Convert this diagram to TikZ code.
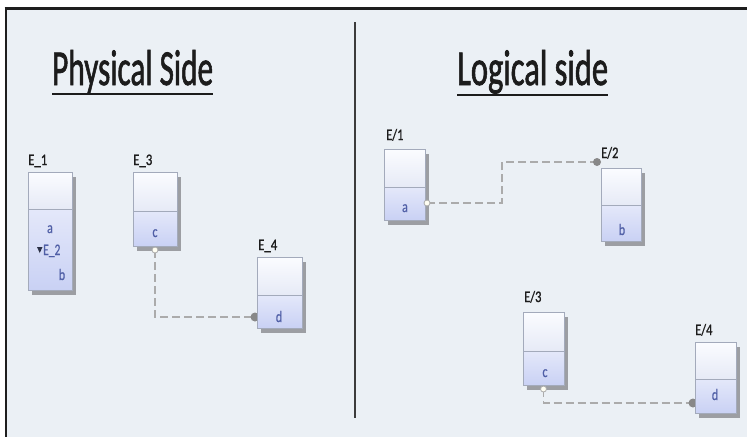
\documentclass[tikz,border=0pt]{standalone}
\usepackage{fontspec}
\setmainfont{Carlito}
\newfontfamily\heavyfont{Carlito}[FakeBold=1.6]
\newfontfamily\lblfont{Carlito}[FakeBold=1.2]
\newfontfamily\inner{Carlito}[FakeBold=0.6]
\usetikzlibrary{calc}
\pgfdeclarelayer{background}
\pgfsetlayers{background,main}
\definecolor{bgc}{HTML}{EBF0F5}
\definecolor{framec}{HTML}{1E1E1E}
\definecolor{boxline}{HTML}{A3AABB}
\definecolor{toptop}{HTML}{FBFCFF}
\definecolor{topbot}{HTML}{E6EAF6}
\definecolor{lowtop}{HTML}{E4E8FA}
\definecolor{lowbot}{HTML}{C9D1F4}
\definecolor{shadowc}{HTML}{9C9EA3}
\definecolor{conn}{HTML}{ABABAB}
\definecolor{endc}{HTML}{888888}
\definecolor{txtblue}{HTML}{4F5EA6}
\definecolor{divc}{HTML}{3C3C3C}
\definecolor{titlec}{HTML}{1C1C1C}
\newcommand\sqz[2]{\scalebox{#1}[1]{#2}}
\newcommand\umlbox[6]{%
  \fill[shadowc] (#2+4,#3+5) rectangle (#2+4+#4,#3+5+#5);
  \shade[top color=toptop,bottom color=topbot] (#2,#3) rectangle (#2+#4,#3+#6);
  \shade[top color=lowtop,bottom color=lowbot] (#2,#3+#6) rectangle (#2+#4,#3+#5);
  \node[boxframe,minimum width=#4pt,minimum height=#5pt] (#1) at (#2,#3) {};
  \draw[boxline,line width=0.8pt] (#1.north west) ++(0,-#6pt) -- ++(#4pt,0);
}
\tikzset{
  boxframe/.style={draw=boxline,line width=0.8pt,inner sep=0pt,outer sep=0pt,anchor=north west},
  lbl/.style={anchor=base west,inner sep=0pt,text=titlec,font=\lblfont\fontsize{16}{16}\selectfont},
  itxt/.style={anchor=base,inner sep=0pt,text=txtblue,font=\inner\fontsize{16}{16}\selectfont},
  ttl/.style={anchor=base west,inner sep=0pt,text=titlec,font=\heavyfont},
  connector/.style={conn,line width=1.7pt,dash pattern=on 8pt off 4pt},
  opendot/.style={draw=conn,fill=white!95!yellow,line width=0.8pt},
  enddot/.style={fill=endc},
}
\begin{document}
\begin{tikzpicture}[x=1pt,y=-1pt]
\useasboundingbox (0,0) rectangle (747,437);
\begin{pgfonlayer}{background}
\fill[white] (0,0) rectangle (747,437);
\fill[bgc] (6,8) rectangle (747,437);
\draw[framec,line width=2.6pt] (4.7,8.5) -- (747,8.5);
\draw[framec,line width=2.4pt] (6,8) -- (6,437);
\end{pgfonlayer}

% titles
\node[ttl] (tP) at (52,85) {\resizebox{161pt}{35pt}{Physical Side}};
\draw[titlec,line width=2.2pt] ($(tP.base west)+(0,-9pt)$) -- ($(tP.base east)+(0,-9pt)$);
\node[ttl] (tL) at (457,85) {\resizebox{151pt}{35pt}{Logical side}};
\draw[titlec,line width=2.2pt] ($(tL.base west)+(0,-10pt)$) -- ($(tL.base east)+(0,-10pt)$);

% divider
\coordinate (dtop) at (355,22);
\coordinate (dbot) at (355,418);
\draw[divc,line width=2pt] (dtop) -- (dbot);

% boxes
\umlbox{E1}{28}{172}{44}{118}{37}
\umlbox{E3}{133}{172}{44}{74}{39}
\umlbox{E4}{257}{257}{45}{71}{38}
\umlbox{L1}{384}{149}{41}{71}{38}
\umlbox{L2}{601}{168}{40}{73}{37}
\umlbox{L3}{523}{312}{41}{73}{39}
\umlbox{L4}{695}{342}{41}{71}{37}

% labels
\node[lbl] (E1l) at (28,165) {\sqz{0.8}{E\_1}};
\node[lbl] (E3l) at (133,165) {\sqz{0.8}{E\_3}};
\node[lbl] (E4l) at (258,250) {\sqz{0.8}{E\_4}};
\node[lbl] (L1l) at (386,140) {\sqz{0.78}{E/1}};
\node[lbl] (L2l) at (601,158) {\sqz{0.78}{E/2}};
\node[lbl] (L3l) at (524,302) {\sqz{0.78}{E/3}};
\node[lbl] (L4l) at (695,335) {\sqz{0.78}{E/4}};

% inner texts
\node[itxt] (E1a) at (50,233) {\sqz{0.75}{a}};
\fill[titlec!70!txtblue] (37,247) -- (42.5,247) -- (39.75,253) -- cycle;
\node[itxt,anchor=base west] (E1e) at (43,255) {\sqz{0.72}{E\_2}};
\node[itxt] (E1b) at (62,280) {\sqz{0.75}{b}};
\node[itxt] (E3c) at (155,237) {\sqz{0.75}{c}};
\node[itxt] (E4d) at (279,322) {\sqz{0.75}{d}};
\node[itxt] (L1a) at (405,212) {\sqz{0.75}{a}};
\node[itxt] (L2b) at (622,235) {\sqz{0.75}{b}};
\node[itxt] (L3c) at (545,377) {\sqz{0.75}{c}};
\node[itxt] (L4d) at (715,400) {\sqz{0.75}{d}};

% connectors
\begin{pgfonlayer}{background}
\coordinate (c1s) at ($(E3.south)+(0,-4pt)$);
\coordinate (c1e) at ($(E4.south west)+(0,11pt)$);
\draw[connector] (c1s) |- (c1e);
\coordinate (c2s) at ($(L1.south east)+(2pt,17pt)$);
\coordinate (c2e) at ($(L2.north west)+(-4pt,6pt)$);
\draw[connector] (c2s) -- ++(75pt,0) |- (c2e);
\coordinate (c3s) at ($(L3.south)+(0,-4pt)$);
\coordinate (c3e) at ($(L4.south west)+(0,10pt)$);
\draw[connector] (c3s) |- (c3e);
\fill[enddot] ($(c1e)+(-2pt,0)$) circle (4.5pt);
\fill[enddot] ($(c3e)+(-2pt,0)$) circle (4.5pt);
\end{pgfonlayer}
\draw[opendot] (c1s) circle (3pt);
\draw[opendot] (c2s) circle (3pt);
\draw[opendot] (c3s) circle (3pt);
\fill[enddot] (c2e) circle (4pt);
\end{tikzpicture}
\end{document}
